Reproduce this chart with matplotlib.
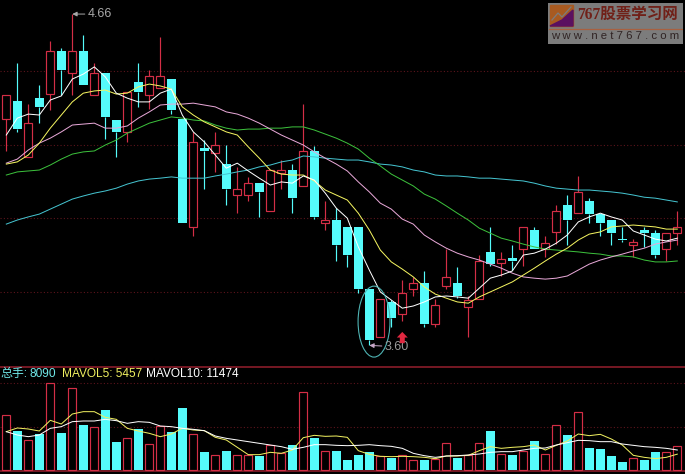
import numpy as np
import matplotlib
matplotlib.use("Agg")
import matplotlib.pyplot as plt
from matplotlib.patches import Ellipse, Polygon, Rectangle

# daily candles
opens = [4.324, 4.382, 4.203, 4.391, 4.404, 4.542, 4.471, 4.542, 4.401, 4.471, 4.321, 4.283, 4.443, 4.401, 4.423, 4.452,
         4.324, 3.979, 4.231, 4.215, 4.180, 4.081, 4.081, 4.119, 4.030, 4.151, 4.161, 4.110, 4.222, 3.991, 4.001, 3.979,
         3.979, 3.780, 3.627, 3.739, 3.700, 3.780, 3.799, 3.668, 3.790, 3.799, 3.723, 3.748, 3.899, 3.863, 3.879, 3.908,
         3.969, 3.908, 3.963, 4.049, 4.023, 4.062, 4.020, 4.001, 3.940, 3.921, 3.969, 3.959, 3.908, 3.959]
closes = [4.401, 4.292, 4.311, 4.363, 4.542, 4.481, 4.542, 4.433, 4.471, 4.331, 4.283, 4.411, 4.411, 4.462, 4.462, 4.353,
          3.991, 4.251, 4.222, 4.241, 4.100, 4.100, 4.119, 4.091, 4.161, 4.161, 4.071, 4.222, 4.011, 4.001, 3.921, 3.889,
          3.780, 3.617, 3.748, 3.687, 3.767, 3.799, 3.668, 3.729, 3.819, 3.758, 3.745, 3.870, 3.860, 3.876, 3.870, 3.979,
          3.908, 3.927, 4.030, 4.001, 4.091, 4.020, 3.991, 3.959, 3.937, 3.931, 3.959, 3.889, 3.959, 3.979]
highs = [4.401, 4.503, 4.372, 4.433, 4.574, 4.551, 4.660, 4.593, 4.503, 4.471, 4.321, 4.411, 4.503, 4.481, 4.587, 4.452,
         4.324, 4.283, 4.257, 4.283, 4.241, 4.171, 4.139, 4.119, 4.161, 4.193, 4.180, 4.372, 4.238, 4.062, 4.039, 3.979,
         3.979, 3.780, 3.748, 3.745, 3.809, 3.819, 3.838, 3.748, 3.908, 3.851, 3.758, 3.889, 3.979, 3.899, 3.921, 3.979,
         3.979, 3.950, 4.049, 4.081, 4.142, 4.071, 4.020, 4.001, 3.979, 3.940, 3.979, 3.969, 3.959, 4.030]
lows = [4.222, 4.283, 4.203, 4.311, 4.353, 4.401, 4.401, 4.433, 4.401, 4.260, 4.203, 4.251, 4.363, 4.356, 4.423, 4.340,
        3.991, 3.950, 4.100, 4.155, 4.049, 4.023, 4.062, 4.011, 4.030, 4.100, 4.023, 4.110, 4.004, 3.969, 3.870, 3.851,
        3.767, 3.600, 3.627, 3.659, 3.678, 3.758, 3.659, 3.659, 3.780, 3.751, 3.627, 3.748, 3.854, 3.822, 3.841, 3.854,
        3.908, 3.883, 3.924, 3.921, 4.023, 3.991, 3.950, 3.921, 3.931, 3.883, 3.915, 3.879, 3.870, 3.921]

ma_white = [4.273, 4.327, 4.340, 4.337, 4.385, 4.398, 4.452, 4.468, 4.491, 4.459, 4.407, 4.391, 4.379, 4.379, 4.407, 4.420,
            4.337, 4.283, 4.251, 4.209, 4.167, 4.183, 4.158, 4.135, 4.113, 4.123, 4.119, 4.142, 4.129, 4.087, 4.039, 4.007,
            3.915, 3.841, 3.771, 3.745, 3.719, 3.726, 3.739, 3.755, 3.758, 3.755, 3.751, 3.783, 3.815, 3.825, 3.838, 3.889,
            3.895, 3.908, 3.927, 3.953, 3.995, 4.011, 4.023, 4.011, 4.001, 3.966, 3.953, 3.940, 3.934, 3.943]
ma_yellow = [4.180, 4.187, 4.209, 4.247, 4.295, 4.337, 4.379, 4.407, 4.414, 4.417, 4.404, 4.407, 4.427, 4.436, 4.430, 4.420,
             4.363, 4.337, 4.315, 4.299, 4.283, 4.273, 4.235, 4.199, 4.161, 4.148, 4.145, 4.145, 4.126, 4.097, 4.081, 4.065,
             4.023, 3.969, 3.905, 3.867, 3.844, 3.819, 3.787, 3.764, 3.751, 3.739, 3.735, 3.755, 3.771, 3.787, 3.803, 3.825,
             3.847, 3.870, 3.892, 3.911, 3.937, 3.956, 3.963, 3.979, 3.982, 3.985, 3.982, 3.979, 3.972, 3.972]
ma_pink = [4.183, 4.196, 4.225, 4.247, 4.263, 4.283, 4.305, 4.308, 4.311, 4.295, 4.295, 4.302, 4.327, 4.347, 4.369, 4.372,
           4.372, 4.375, 4.369, 4.363, 4.347, 4.340, 4.327, 4.311, 4.292, 4.273, 4.257, 4.241, 4.219, 4.199, 4.180, 4.158,
           4.123, 4.091, 4.055, 4.036, 4.004, 3.988, 3.953, 3.931, 3.911, 3.895, 3.883, 3.873, 3.860, 3.847, 3.831, 3.819,
           3.815, 3.812, 3.815, 3.822, 3.841, 3.860, 3.873, 3.883, 3.892, 3.902, 3.911, 3.924, 3.931, 3.937]
ma_green = [4.145, 4.155, 4.158, 4.161, 4.177, 4.196, 4.212, 4.219, 4.222, 4.241, 4.257, 4.279, 4.295, 4.311, 4.321, 4.331,
            4.327, 4.321, 4.318, 4.305, 4.295, 4.289, 4.292, 4.292, 4.295, 4.295, 4.299, 4.299, 4.289, 4.276, 4.263, 4.247,
            4.228, 4.199, 4.174, 4.148, 4.129, 4.110, 4.084, 4.068, 4.046, 4.023, 4.001, 3.975, 3.959, 3.943, 3.934, 3.924,
            3.915, 3.908, 3.905, 3.902, 3.899, 3.895, 3.892, 3.886, 3.886, 3.883, 3.873, 3.867, 3.867, 3.870]
ma_blue = [3.988, 4.001, 4.011, 4.020, 4.036, 4.052, 4.068, 4.078, 4.087, 4.094, 4.103, 4.116, 4.126, 4.132, 4.135, 4.139,
           4.135, 4.135, 4.135, 4.142, 4.148, 4.155, 4.161, 4.171, 4.177, 4.187, 4.193, 4.206, 4.203, 4.199, 4.196, 4.193,
           4.193, 4.187, 4.180, 4.177, 4.171, 4.161, 4.155, 4.145, 4.142, 4.142, 4.139, 4.135, 4.135, 4.132, 4.129, 4.126,
           4.119, 4.110, 4.103, 4.100, 4.097, 4.097, 4.094, 4.091, 4.087, 4.081, 4.074, 4.071, 4.065, 4.059]

volumes = [18920, 13416, 10320, 12384, 29928, 12728, 28208, 15480, 14792, 20640, 9632, 11008, 14104, 8944, 15136, 13072,
           21328, 12384, 6192, 5160, 6536, 5160, 5160, 4816, 8600, 5848, 8600, 26832, 11008, 6536, 6536, 3440,
           5160, 6192, 4816, 4128, 5160, 3440, 3440, 3784, 9288, 4128, 5160, 9288, 13416, 5504, 5160, 6536,
           9976, 5504, 15480, 12040, 19952, 7568, 7224, 4816, 2752, 4128, 3440, 6192, 6192, 8090]
mavol5 = [13187, 14448, 14104, 13416, 17086, 15824, 19264, 20067, 20067, 18118, 17430, 14334, 13416, 12614, 11467, 12384,
          14334, 13760, 13531, 11238, 10320, 7798, 5275, 5275, 6078, 5734, 6880, 11123, 11926, 11582, 11696, 11238,
          6651, 5390, 4701, 4587, 4701, 4587, 4357, 3899, 4816, 4816, 5045, 6651, 8027, 7454, 7798, 8027,
          8600, 6880, 8486, 9976, 12384, 11811, 12270, 10664, 8600, 5045, 4357, 3899, 4357, 5457]
mavol10 = [13187, 12040, 11467, 12040, 14334, 14907, 16627, 16856, 16856, 17430, 16971, 16054, 16627, 16398, 15136, 14907,
           14334, 13990, 13531, 11696, 10894, 10320, 9747, 9174, 8600, 8027, 7110, 7798, 8715, 8715, 8486, 8371,
           8486, 8715, 8371, 8141, 7454, 5734, 4931, 4357, 4816, 4931, 5160, 5504, 6078, 6307, 6307, 6880,
           7454, 7568, 8600, 9403, 10206, 10091, 9747, 9747, 8944, 8486, 8027, 7798, 7454, 6880]

price_grid = [4.478, 4.241, 4.007, 3.771]
vol_grid = [29928, 14792]

RED = "#d42e46"
CYAN = "#55fbfb"
GRID = "#5c141c"
W, H = 685, 474

x = np.arange(len(opens))
op = np.array(opens)
cl = np.array(closes)
hi = np.array(highs)
lo = np.array(lows)
vol = np.array(volumes)
up = cl >= op
top = np.maximum(op, cl)
bot = np.minimum(op, cl)

fig = plt.figure(figsize=(W / 100, H / 100), dpi=100, facecolor="black")
ax1 = fig.add_axes([0, 108 / H, 1, 366 / H], facecolor="black")
ax2 = fig.add_axes([0, 0, 1, 108 / H], facecolor="black")
for ax in (ax1, ax2):
    ax.set_xlim(-0.573, 61.7)
    ax.axis("off")
ax1.set_ylim(3.534, 4.705)
ax2.set_ylim(-1376, 35776)

for p in price_grid:
    ax1.axhline(p, color=GRID, lw=0.8, ls=(0, (1, 2)), zorder=1)
for v in vol_grid:
    ax2.axhline(v, color=GRID, lw=0.8, ls=(0, (1, 2)), zorder=1)
ax2.axhline(35430, color="#8a1c2a", lw=1.2, zorder=1)
ax2.axhline(-344, color="#8a1c2a", lw=1.2, zorder=1)

# wicks stop at the body so hollow candles stay black inside
colors = [RED if u else CYAN for u in up]
ax1.vlines(x, top, hi, colors=colors, lw=0.85, zorder=2, snap=True)
ax1.vlines(x, lo, bot, colors=colors, lw=0.85, zorder=2, snap=True)
ax1.bar(x[~up], (top - bot)[~up], bottom=bot[~up], width=9 / 11, color=CYAN, zorder=3, antialiased=False)
ax1.bar(x[up], (top - bot)[up], bottom=bot[up], width=8 / 11, facecolor="black", edgecolor=RED, lw=0.85,
        zorder=3)

ax2.bar(x[~up], vol[~up], width=9 / 11, color=CYAN, zorder=3, antialiased=False)
ax2.bar(x[up], vol[up], width=8 / 11, facecolor="black", edgecolor=RED, lw=0.85, zorder=3)

# one pixel lines: thin with smoothing kept on
ax1.plot(x, ma_blue, color="#45c4d0", lw=0.72, zorder=4)
ax1.plot(x, ma_green, color="#3cc03c", lw=0.72, zorder=4)
ax1.plot(x, ma_pink, color="#e8a8d8", lw=0.72, zorder=4)
ax1.plot(x, ma_yellow, color="#f4f460", lw=0.72, zorder=5)
ax1.plot(x, ma_white, color="white", lw=0.72, zorder=6)

ax2.plot(x, mavol5, color="#f0f060", lw=0.72, zorder=4)
ax2.plot(x, mavol10, color="white", lw=0.72, zorder=5)

# high / low marks
ax1.annotate("4.66", xy=(6, 4.66), xytext=(11, 0), textcoords="offset points", color="#a8a8a8",
             fontsize=9, family="Liberation Sans", va="center", zorder=8,
             arrowprops=dict(arrowstyle="-|>,head_width=0.15,head_length=0.3", color="#a8a8a8", lw=0.7, shrinkA=0, shrinkB=0))
ax1.annotate("3.60", xy=(33, 3.60), xytext=(11, -1), textcoords="offset points", color="#9a9a9a",
             fontsize=9, family="Liberation Sans", va="center", zorder=8,
             arrowprops=dict(arrowstyle="-|>,head_width=0.15,head_length=0.3", color="#c8a8c8", lw=0.7, shrinkA=0, shrinkB=0))
ax1.add_patch(Ellipse((33.43, 3.676), 2.9, 0.227, fill=False, edgecolor="#4fb4b4", lw=0.8, zorder=7))
ax1.arrow(36, 3.607, 0, 0.036, width=0.45, head_width=1.0, head_length=0.018,
          length_includes_head=True, color="#e02840", lw=0, zorder=9)

# indicator line above the volume panel
label_y = 1 - 374 / H
lab = dict(fontsize=8.6, va="center", family=["Liberation Sans", "Noto Sans CJK SC"])
fig.text(0 / W, label_y, "总手:", color="#70e8e8", **lab)
fig.text(30 / W, label_y, "8090", color="#70e8e8", **lab)
fig.text(62 / W, label_y, "MAVOL5: 5457", color="#f0f060", **lab)
fig.text(146 / W, label_y, "MAVOL10: 11474", color="white", **lab)

# site watermark, top right corner
logo = fig.add_axes([548 / W, 1 - 44 / H, 135 / W, 41 / H], facecolor="#7c7c7c")
logo.set_xlim(548, 683)
logo.set_ylim(44, 3)
logo.axis("on")
logo.set_xticks([])
logo.set_yticks([])
for s in logo.spines.values():
    s.set_visible(False)
logo.add_patch(Rectangle((550, 5), 23, 21, color="#a85a20"))
logo.add_patch(Polygon([[550, 26], [573, 26], [573, 10], [562, 20]], color="#5a1060"))
logo.plot([552, 558, 562, 571], [20, 13, 17, 7], color="#7c7c7c", lw=0.9)
logo.plot([549, 683], [28.5, 28.5], color="#a86040", lw=0.9)
logo.text(577, 15, "767股票学习网", color="#702018", fontsize=11.2, fontweight="bold", va="center",
          family=["Liberation Serif", "Noto Sans CJK SC"])
logo.text(551, 36, "w w w . n e t 7 6 7 . c o m", color="#302424", fontsize=8.2, va="center",
          family="Liberation Sans")

plt.savefig("out.png", dpi=100, facecolor="black")
plt.close()
